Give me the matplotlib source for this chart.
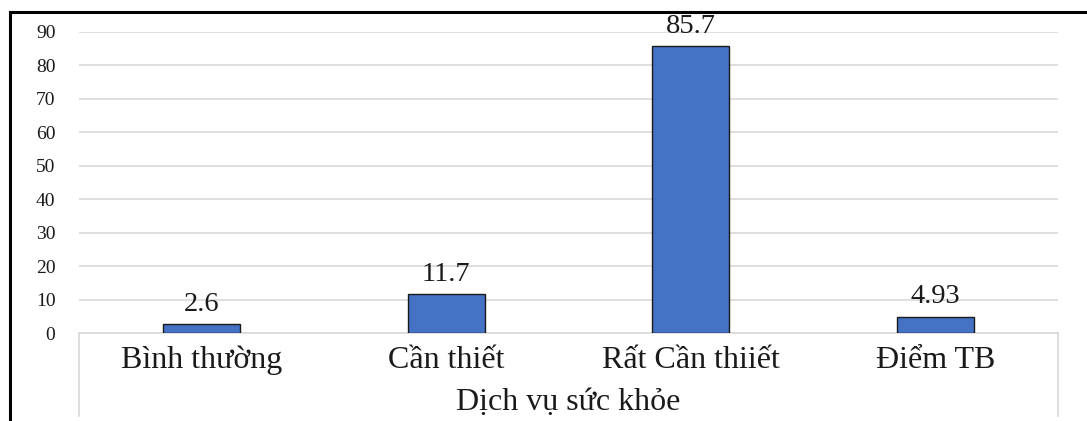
import matplotlib
matplotlib.use("Agg")
import matplotlib.pyplot as plt
from matplotlib.lines import Line2D

categories = ["Bình thường", "Cần thiết", "Rất Cần thiiết", "Điểm TB"]
values = [2.6, 11.7, 85.7, 4.93]
value_labels = ["2.6", "11.7", "85.7", "4.93"]
group_label = "Dịch vụ sức khỏe"
yticks = [0, 10, 20, 30, 40, 50, 60, 70, 80, 90]

W, H = 1087, 421
fig = plt.figure(figsize=(W / 100, H / 100), dpi=100)
serif = ["Liberation Serif", "DejaVu Serif"]
ink = "#1a1a1a"

left, right, bottom, top = 79, 1058, 333, 32
ax = fig.add_axes([left / W, 1 - bottom / H, (right - left) / W, (bottom - top) / H])
span = bottom - top

bar_color = "#4472C4"
x = list(range(len(categories)))
ax.bar(x, values, width=0.315, color=bar_color, edgecolor=ink, linewidth=1.0, zorder=3)
for xi, v, lab in zip(x, values, value_labels):
    ax.annotate(lab, (xi, v), xytext=(0, 9.5), textcoords="offset points",
                ha="center", va="baseline", fontsize=20.5, family=serif,
                color=ink, annotation_clip=False)

ax.set_xlim(-0.5, len(categories) - 0.5)
ax.set_ylim(0, 90)
ax.set_yticks(yticks)
ax.set_yticklabels([str(t) for t in yticks], family=serif, fontsize=14, color=ink)
ax.tick_params(axis="y", length=0, pad=17)
ax.tick_params(axis="x", length=0, bottom=False, labelbottom=False)
ax.yaxis.grid(True, color="#d9d9d9", linewidth=1.2, zorder=0)
ax.set_axisbelow(True)
for side in ["top", "right", "left"]:
    ax.spines[side].set_visible(False)
ax.spines["bottom"].set_color("#d9d9d9")
ax.spines["bottom"].set_linewidth(1.2)

# category labels and the group label underneath the axis
xt = ax.get_xaxis_transform()
for xi, c in zip(x, categories):
    ax.text(xi, -(368 - bottom) / span, c, transform=xt, ha="center", va="baseline",
            fontsize=23, family=serif, color=ink)
ax.text(1.5, -(410 - bottom) / span, group_label, transform=xt, ha="center",
        va="baseline", fontsize=23, family=serif, color=ink)

# vertical separators of the category area
for xv in (left, right):
    fig.add_artist(Line2D([xv / W, xv / W], [1 - bottom / H, 1 - 416 / H],
                          transform=fig.transFigure, color="#d9d9d9", linewidth=1.2))

# outer frame (left and top edges)
fig.add_artist(Line2D([10 / W, 10 / W], [0, 1 - 12 / H], transform=fig.transFigure,
                      color="black", linewidth=2.2))
fig.add_artist(Line2D([10 / W, 1], [1 - 12 / H, 1 - 12 / H], transform=fig.transFigure,
                      color="black", linewidth=2.2))

fig.savefig("out.png", dpi=100, facecolor="white")
